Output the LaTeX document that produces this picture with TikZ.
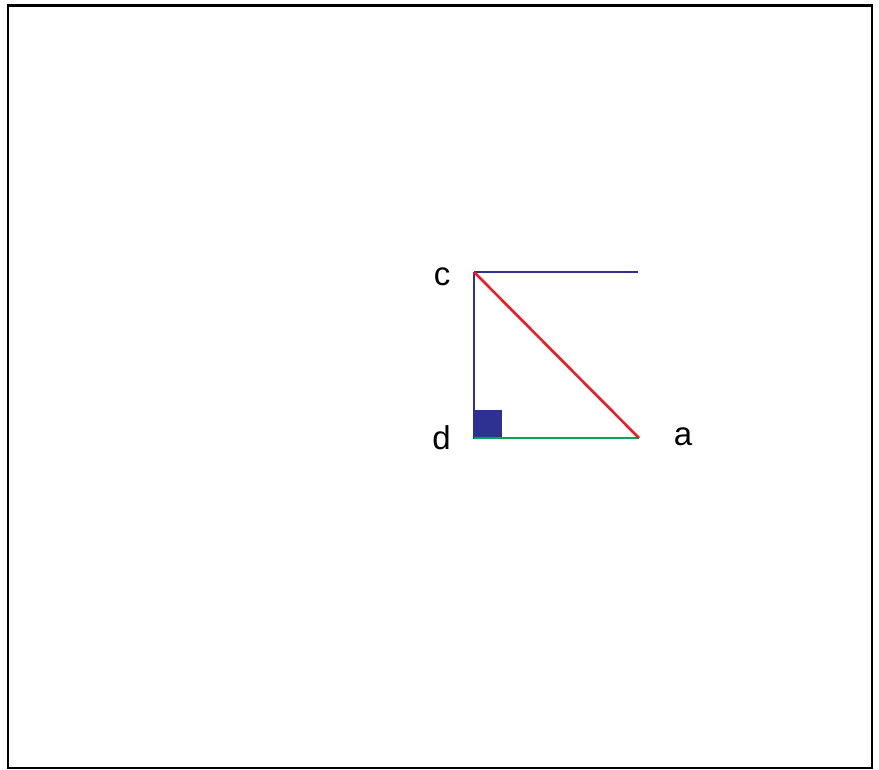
\documentclass[tikz,border=0pt]{standalone}
\usepackage{fontspec}
\setmainfont{Liberation Sans}
\definecolor{cblue}{RGB}{46,49,146}
\definecolor{cred}{RGB}{237,28,36}
\definecolor{cgreen}{RGB}{0,166,81}
\tikzset{
  lbl/.style={font=\fontsize{33}{36}\selectfont, inner sep=0pt},
  blueline/.style={cblue, line width=2.8pt},
}
\begin{document}
\begin{tikzpicture}[x=1pt,y=-1pt]
\useasboundingbox (0,0) rectangle (879,770);
\draw[line width=2.6pt] (7.8,5.8) rectangle (872,768);
\coordinate (c) at (474,272);
\coordinate (d) at (474,438);
\coordinate (a) at (639,438);
\coordinate (e) at (638,272);
\fill[cblue] (473,410) rectangle (502,439);
\draw[blueline] (c) -- (e);
\draw[blueline] (c) -- (d);
\draw[cgreen, line width=2.8pt] (d) -- (a);
\draw[cred, line width=2.6pt] (c) -- (a);
\node[lbl] (lc) at (442,277) {c};
\node[lbl] (ld) at (441.5,437.5) {d};
\node[lbl] (la) at (683,436.5) {a};
\end{tikzpicture}
\end{document}
